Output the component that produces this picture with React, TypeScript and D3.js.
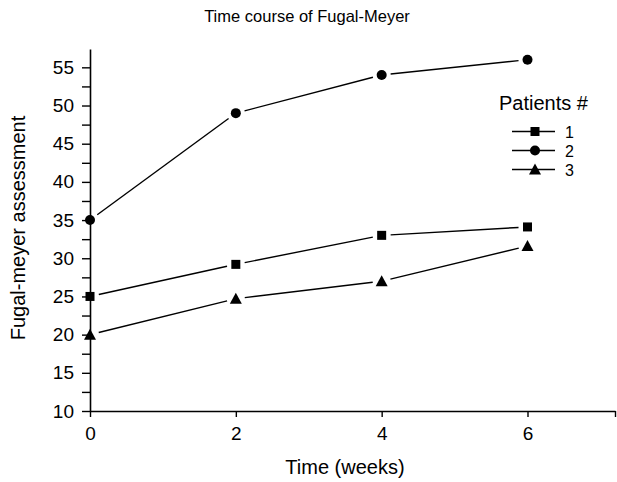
import React, { useEffect, useRef } from "react";
import * as d3 from "d3";

const weeks = [0, 2, 4, 6];
const patient1 = [25, 29.2, 33, 34.1];
const patient2 = [35, 49, 54, 56];
const patient3 = [20, 24.7, 27, 31.6];
const patientNames = ["1", "2", "3"];
const markerKinds = ["square", "circle", "triangle"];
const xTicks = [0, 2, 4, 6, 7.2];
const yTicks = d3.range(10, 57.5, 2.5);

const W = 617, H = 482;
const FONT = "'Liberation Sans', Arial, sans-serif";

function drawMarker(sel: any, kind: string, x: number, y: number) {
  if (kind === "square") {
    sel.append("rect").attr("x", x - 4.5).attr("y", y - 4.5)
      .attr("width", 9).attr("height", 9).attr("fill", "#000");
  } else if (kind === "circle") {
    sel.append("circle").attr("cx", x).attr("cy", y).attr("r", 5).attr("fill", "#000");
  } else {
    sel.append("path")
      .attr("d", `M${x},${y - 6}L${x + 6},${y + 5}L${x - 6},${y + 5}Z`)
      .attr("fill", "#000");
  }
}

export default function App() {
  const ref = useRef<SVGSVGElement>(null);

  useEffect(() => {
    const svg = d3.select(ref.current);
    svg.selectAll("*").remove();

    const x = d3.scaleLinear().domain([0, 7.2]).range([90, 615]);
    const y = d3.scaleLinear().domain([10, 57.4]).range([411, 49]);

    // x axis
    const gx = svg.append("g").attr("transform", `translate(0, ${y(10)})`)
      .call(d3.axisBottom(x).tickValues(xTicks).tickSize(6).tickSizeOuter(0)
        .tickFormat((d: any) => (d === 7.2 ? "" : String(d))));
    gx.select(".domain").attr("stroke-width", 1.6);
    gx.selectAll(".tick line").attr("stroke-width", 1.4);
    gx.selectAll(".tick text").attr("font-family", FONT).attr("font-size", 19)
      .attr("fill", "#000").attr("dy", "0.85em").attr("y", 13);

    // y axis
    const gy = svg.append("g").attr("transform", `translate(${x(0)}, 0)`)
      .call(d3.axisLeft(y).tickValues(yTicks).tickSize(8).tickSizeOuter(0)
        .tickFormat((d: any) => (d % 5 === 0 ? String(d) : "")));
    gy.select(".domain").attr("stroke-width", 1.6);
    gy.selectAll(".tick line").attr("stroke-width", 1.4);
    gy.selectAll(".tick text").attr("font-family", FONT).attr("font-size", 19)
      .attr("fill", "#000").attr("x", -16);

    // series
    const series = [patient1, patient2, patient3];
    const gap = 9;
    series.forEach((vals, si) => {
      const g = svg.append("g");
      const pts = weeks.map((w, i) => [x(w), y(vals[i])]);
      for (let i = 0; i < pts.length - 1; i++) {
        const [x1, y1] = pts[i], [x2, y2] = pts[i + 1];
        const len = Math.hypot(x2 - x1, y2 - y1);
        const ux = (x2 - x1) / len, uy = (y2 - y1) / len;
        g.append("line")
          .attr("x1", x1 + ux * gap).attr("y1", y1 + uy * gap)
          .attr("x2", x2 - ux * gap).attr("y2", y2 - uy * gap)
          .attr("stroke", "#000").attr("stroke-width", 1.4);
      }
      pts.forEach(([px, py]) => drawMarker(g, markerKinds[si], px, py));
    });

    // legend
    const lg = svg.append("g");
    lg.append("text").attr("x", 499).attr("y", 110)
      .attr("font-family", FONT).attr("font-size", 20).text("Patients #");
    patientNames.forEach((name, i) => {
      const ly = 131.5 + i * 19;
      lg.append("line").attr("x1", 512).attr("x2", 555).attr("y1", ly).attr("y2", ly)
        .attr("stroke", "#000").attr("stroke-width", 1.4);
      drawMarker(lg, markerKinds[i], 535, ly);
      lg.append("text").attr("x", 565).attr("y", ly + 6)
        .attr("font-family", FONT).attr("font-size", 16).text(name);
    });

    // titles
    svg.append("text").attr("x", 307).attr("y", 22).attr("text-anchor", "middle")
      .attr("font-family", FONT).attr("font-size", 16.5).text("Time course of Fugal-Meyer");

    svg.append("text").attr("x", 345).attr("y", 474).attr("text-anchor", "middle")
      .attr("font-family", FONT).attr("font-size", 20).text("Time (weeks)");

    svg.append("text").attr("transform", `translate(25, 228) rotate(-90)`)
      .attr("text-anchor", "middle")
      .attr("font-family", FONT).attr("font-size", 20).text("Fugal-meyer assessment");
  }, []);

  return (
    <svg ref={ref} width={W} height={H}
      style={{ position: "absolute", left: 0, top: 0, background: "#fff" }} />
  );
}
